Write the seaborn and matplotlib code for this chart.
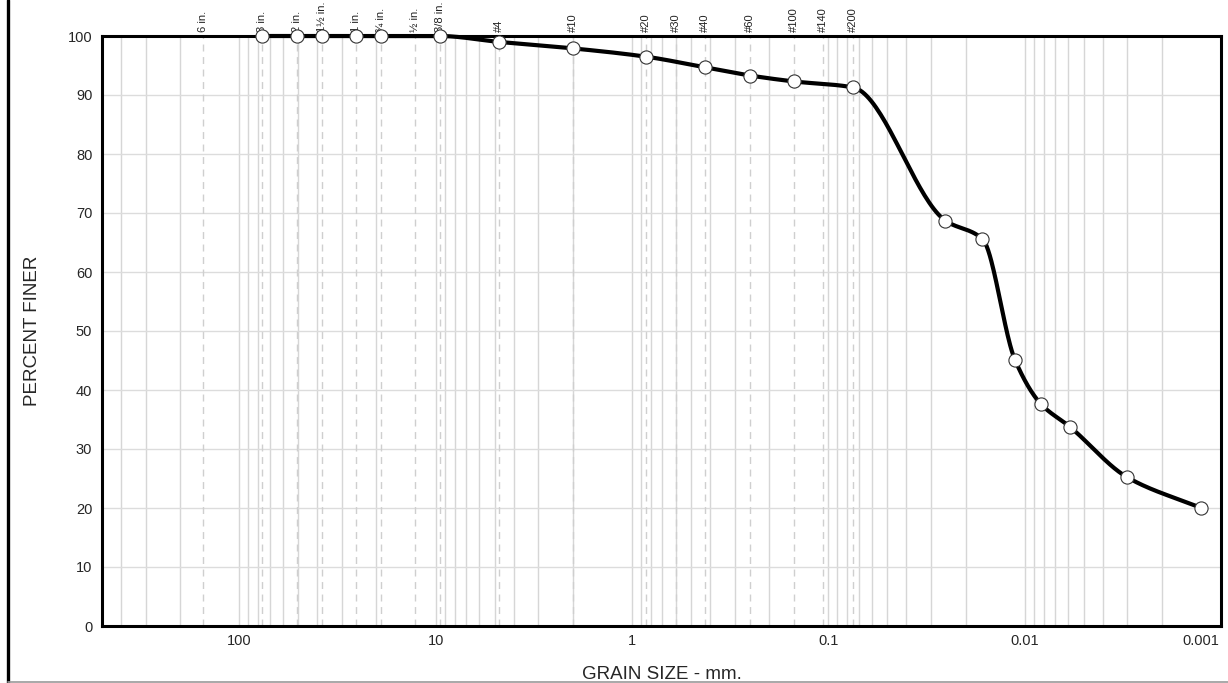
import numpy as np
import pandas as pd
import matplotlib
matplotlib.use("Agg")
import matplotlib.pyplot as plt
from matplotlib.lines import Line2D
from matplotlib.transforms import ScaledTranslation
from matplotlib.ticker import FixedLocator, FixedFormatter, LogLocator, NullFormatter
import seaborn as sns

# Standard sieve openings shown along the top of the chart
sieve_labels = ["6 in.", "3 in.", "2 in.", "1½ in.", "1 in.", "¾ in.", "½ in.", "3/8 in.",
                "#4", "#10", "#20", "#30", "#40", "#60", "#100", "#140", "#200"]
sieve_openings_mm = [152.4, 76.2, 50.8, 38.1, 25.4, 19.05, 12.7, 9.525,
                     4.75, 2.0, 0.85, 0.6, 0.425, 0.25, 0.15, 0.106, 0.075]

# Sieve + hydrometer results
grain_size_mm = [76.2, 50.8, 38.1, 25.4, 19.05, 9.525, 4.75, 2.0, 0.85, 0.425, 0.25,
                 0.15, 0.075, 0.0253, 0.0164, 0.0112, 0.0083, 0.0059, 0.0030, 0.00126]
percent_finer = [100, 100, 100, 100, 100, 100, 99.0, 97.9, 96.5, 94.7, 93.3,
                 92.3, 91.3, 68.7, 65.6, 45.1, 37.7, 33.8, 25.2, 20.0]

x_tick_values = [100, 10, 1, 0.1, 0.01, 0.001]
x_tick_labels = ["100", "10", "1", "0.1", "0.01", "0.001"]
y_tick_values = list(range(0, 101, 10))


def pchip_curve(x, y, n=40):
    """Monotone cubic (Fritsch-Carlson) curve through the points, in log10(x)."""
    lx = np.log10(np.asarray(x, float))
    y = np.asarray(y, float)
    h = np.diff(lx)
    d = np.diff(y) / h
    m = np.zeros_like(y)
    m[0], m[-1] = d[0], d[-1]
    for i in range(1, len(y) - 1):
        if d[i - 1] * d[i] <= 0:
            m[i] = 0.0
        else:
            w1 = 2 * h[i] + h[i - 1]
            w2 = h[i] + 2 * h[i - 1]
            m[i] = (w1 + w2) / (w1 / d[i - 1] + w2 / d[i])
    xs, ys = [], []
    for i in range(len(h)):
        t = np.linspace(0, 1, n, endpoint=(i == len(h) - 1))
        h00 = 2 * t**3 - 3 * t**2 + 1
        h10 = t**3 - 2 * t**2 + t
        h01 = -2 * t**3 + 3 * t**2
        h11 = t**3 - t**2
        xs.append(lx[i] + t * h[i])
        ys.append(h00 * y[i] + h10 * h[i] * m[i] + h01 * y[i + 1] + h11 * h[i] * m[i + 1])
    return 10 ** np.concatenate(xs), np.concatenate(ys)


sns.set_style("white")
plt.rcParams["font.family"] = ["Liberation Sans", "DejaVu Sans"]

W, H = 1228, 683
fig = plt.figure(figsize=(W / 100, H / 100), dpi=100)
ax = fig.add_axes([102 / W, (H - 626) / H, (1221 - 102) / W, (626 - 36) / H])

ax.set_xscale("log")
ax.set_xlim(500, 0.001)
ax.set_ylim(0, 100)

# grid: log minors + majors vertically, every 10 % horizontally
ax.xaxis.set_major_locator(FixedLocator(x_tick_values))
ax.xaxis.set_major_formatter(FixedFormatter(x_tick_labels))
ax.xaxis.set_minor_locator(LogLocator(base=10, subs=np.arange(2, 10)))
ax.xaxis.set_minor_formatter(NullFormatter())
ax.set_yticks(y_tick_values)
ax.grid(which="both", axis="x", color="#d6d6d6", lw=1.0, zorder=0)
ax.grid(which="major", axis="y", color="#dcdcdc", lw=1.0, zorder=0)
ax.set_axisbelow(True)
ax.tick_params(which="both", length=0)
ax.tick_params(axis="x", labelsize=10.5, pad=6)
ax.tick_params(axis="y", labelsize=10.5, pad=7)

# keep the last size label inside the page
fig.canvas.draw()
last = ax.get_xticklabels()[-1]
last.set_transform(last.get_transform() + ScaledTranslation(-20 / 100, 0, fig.dpi_scale_trans))

# sieve reference lines and labels
for size, lab in zip(sieve_openings_mm, sieve_labels):
    ax.axvline(size, color="#cfcfcf", lw=1.0, ls=(0, (5, 4)), zorder=1)
    ax.annotate(lab, xy=(size, 1.0), xycoords=("data", "axes fraction"),
                xytext=(0, 3), textcoords="offset points", rotation=90,
                ha="center", va="bottom", fontsize=8, color="#222222",
                annotation_clip=False, zorder=3)

# gradation curve and measured points
cx, cy = pchip_curve(grain_size_mm, percent_finer)
curve = pd.DataFrame({"size": cx, "finer": cy})
pts = pd.DataFrame({"size": grain_size_mm, "finer": percent_finer})
sns.lineplot(data=curve, x="size", y="finer", sort=False, estimator=None,
             color="black", lw=3.0, ax=ax, zorder=4, clip_on=False)
sns.scatterplot(data=pts, x="size", y="finer", s=90, color="white",
                edgecolor="#333333", linewidth=0.8, ax=ax, zorder=6, clip_on=False)

for side in ["top", "bottom", "left", "right"]:
    ax.spines[side].set_visible(True)
    ax.spines[side].set_color("black")
    ax.spines[side].set_linewidth(2.2)
    ax.spines[side].set_zorder(5)

ax.set_xlabel("GRAIN SIZE - mm.", fontsize=13.5, labelpad=13)
ax.set_ylabel("PERCENT FINER", fontsize=13.5, labelpad=19)

# page frame on the left and bottom edges
fig.add_artist(Line2D([7.5 / W, 7.5 / W], [0, 1], color="black", lw=2.4))
fig.add_artist(Line2D([7.5 / W, 1], [1.5 / H, 1.5 / H], color="#9a9a9a", lw=1.2))

fig.savefig("out.png", dpi=100)
